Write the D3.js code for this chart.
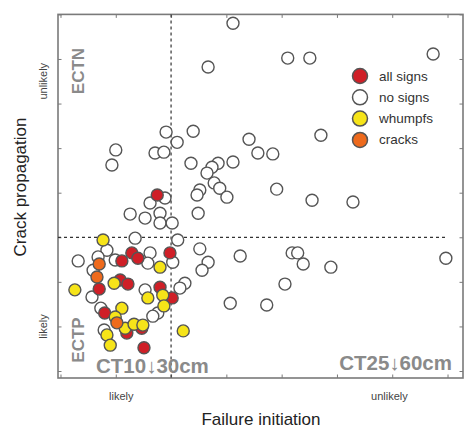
<!DOCTYPE html>
<html><head><meta charset="utf-8">
<script src="https://cdn.jsdelivr.net/npm/d3@7"></script>
<style>body{margin:0;background:#fff;font-family:"Liberation Sans",Arial,sans-serif}</style>
</head><body><div id="chart"></div>
<script>
// Failure initiation (x) vs crack propagation (y), in tick units
const noSigns = [
[3.12,7.80],[2.67,6.82],[4.11,7.02],[4.51,7.02],[6.74,7.11],[1.91,5.36],[2.40,5.38],[2.11,5.13],
[1.00,4.96],[0.93,4.62],[1.71,4.89],[1.87,4.91],[2.36,4.66],[3.41,5.20],[3.57,4.89],[3.84,4.87],
[3.12,4.69],[2.85,4.66],[2.74,4.57],[2.65,4.44],[2.78,4.22],[2.88,4.10],[2.52,4.06],[2.47,3.95],
[3.01,3.90],[4.71,5.29],[3.91,4.08],[4.55,3.83],[5.29,3.79],[1.62,3.77],[1.89,3.88],[1.26,3.52],
[1.53,3.43],[1.80,3.54],[1.80,3.32],[2.02,3.32],[2.49,3.54],[2.12,2.94],[1.35,2.98],[2.52,2.74],
[2.67,2.44],[2.56,2.26],[3.25,2.58],[2.25,1.97],[2.16,1.86],[3.07,1.52],[3.73,1.48],[4.06,1.95],
[4.19,2.65],[4.29,2.65],[4.39,2.40],[4.89,2.33],[6.97,2.53],[0.84,2.71],[0.68,2.56],[0.32,2.47],
[0.99,2.49],[1.62,2.65],[1.58,2.42],[2.03,2.44],[0.59,2.26],[0.57,1.66],[0.73,1.41],[1.53,1.82],
[1.76,1.30],[1.67,1.23],[0.79,0.92]
];
const allSigns = [
[1.75,3.95],[1.29,2.65],[1.11,2.47],[1.40,2.53],[1.98,2.65],[0.70,1.84],[1.08,2.04],[1.22,1.95],
[0.80,1.30],[1.80,1.88],[2.02,1.64],[1.20,0.85],[1.47,0.96],[1.51,0.52]
];
const whumpfs = [
[0.77,2.94],[1.80,2.33],[0.26,1.82],[0.97,1.97],[1.58,1.64],[1.85,1.70],[1.87,1.46],[1.11,1.41],
[0.99,1.21],[1.17,0.96],[1.33,1.05],[1.49,1.03],[2.22,0.90],[0.84,0.81],[0.90,0.58]
];
const cracks = [[0.70,2.40],[0.66,2.11],[1.02,1.08]];

const seriesNames = ["all signs","no signs","whumpfs","cracks"];
const seriesColors = ["#cf1f27","#ffffff","#f6e419","#ee6a1c"];
const xTicks = [0,1,2,3,4,5,6,7];
const yTicks = [0,1,2,3,4,5,6,7,8];
const xThreshold = 2, yThreshold = 3;
const xLabels = ["likely","unlikely"], yLabels = ["likely","unlikely"];

const W = 466, H = 430;
const svg = d3.select("#chart").append("svg").attr("width",W).attr("height",H);
const x = d3.scaleLinear().domain([-0.045,7.28]).range([58,463]);
const y = d3.scaleLinear().domain([-0.157,8]).range([378,14.4]);

const frameCol = "#7a7a7a";
const tl = 3.5;
const axB = d3.axisBottom(x).tickValues(xTicks).tickSize(-tl).tickFormat("");
const axT = d3.axisTop(x).tickValues(xTicks).tickSize(-tl).tickFormat("");
const axL = d3.axisLeft(y).tickValues(yTicks).tickSize(-tl).tickFormat("");
const axR = d3.axisRight(y).tickValues(yTicks).tickSize(-tl).tickFormat("");
[[axB,`translate(0,378)`],[axT,`translate(0,14.4)`],[axL,`translate(58,0)`],[axR,`translate(463,0)`]].forEach(([a,t])=>{
  const g = svg.append("g").attr("transform",t).call(a);
  g.select(".domain").remove();
  g.selectAll("line").attr("stroke",frameCol).attr("stroke-width",1);
});
svg.append("rect").attr("x",58).attr("y",14.4).attr("width",405).attr("height",363.6)
  .attr("fill","none").attr("stroke",frameCol).attr("stroke-width",1.6);

// dashed threshold lines
svg.append("line").attr("x1",x(xThreshold)).attr("x2",x(xThreshold)).attr("y1",14.4).attr("y2",378)
  .attr("stroke","#333").attr("stroke-width",1.2).attr("stroke-dasharray","3,3");
svg.append("line").attr("x1",58).attr("x2",x(6.98)).attr("y1",y(yThreshold)).attr("y2",y(yThreshold))
  .attr("stroke","#333").attr("stroke-width",1.2).attr("stroke-dasharray","3,3");

// region labels
const grey = "#8a8a8a";
svg.append("text").attr("transform",`translate(84,71) rotate(-90)`).attr("text-anchor","middle")
  .attr("font-size",17).attr("font-weight","bold").attr("fill",grey).text("ECTN");
svg.append("text").attr("transform",`translate(84,340) rotate(-90)`).attr("text-anchor","middle")
  .attr("font-size",17).attr("font-weight","bold").attr("fill",grey).text("ECTP");
svg.append("text").attr("x",96).attr("y",373).attr("font-size",20.5).attr("font-weight","bold").attr("fill",grey).text("CT10↓30cm");
svg.append("text").attr("x",452).attr("y",370).attr("text-anchor","end").attr("font-size",20.5).attr("font-weight","bold").attr("fill",grey).text("CT25↓60cm");

// points
const groups = [noSigns, allSigns, whumpfs, cracks];
const colorIdx = [1,0,2,3];
groups.forEach((arr,i)=>{
  svg.append("g").selectAll("circle").data(arr).join("circle")
    .attr("cx",d=>x(d[0])).attr("cy",d=>y(d[1])).attr("r",6)
    .attr("fill",seriesColors[colorIdx[i]]).attr("stroke","#555").attr("stroke-width",1.4);
});

// legend
const lg = svg.append("g");
seriesNames.forEach((n,i)=>{
  const cy = 76 + i*21.3;
  lg.append("circle").attr("cx",360).attr("cy",cy).attr("r",7.5)
    .attr("fill",seriesColors[i]).attr("stroke","#555").attr("stroke-width",1.5);
  lg.append("text").attr("x",379).attr("y",cy+4.5).attr("font-size",13.5).attr("fill","#333").text(n);
});

// axis labels
svg.append("text").attr("x",x(1.1)).attr("y",400).attr("text-anchor","middle").attr("font-size",11).attr("fill","#444").text(xLabels[0]);
svg.append("text").attr("x",x(5.95)).attr("y",400).attr("text-anchor","middle").attr("font-size",11).attr("fill","#444").text(xLabels[1]);
svg.append("text").attr("transform",`translate(47,${y(1)}) rotate(-90)`).attr("text-anchor","middle").attr("font-size",11).attr("fill","#444").text(yLabels[0]);
svg.append("text").attr("transform",`translate(47,${y(6.5)}) rotate(-90)`).attr("text-anchor","middle").attr("font-size",11).attr("fill","#444").text(yLabels[1]);
svg.append("text").attr("x",261).attr("y",425).attr("text-anchor","middle").attr("font-size",17).attr("fill","#222").text("Failure initiation");
svg.append("text").attr("transform",`translate(26,187) rotate(-90)`).attr("text-anchor","middle").attr("font-size",17).attr("fill","#222").text("Crack propagation");
</script></body></html>
